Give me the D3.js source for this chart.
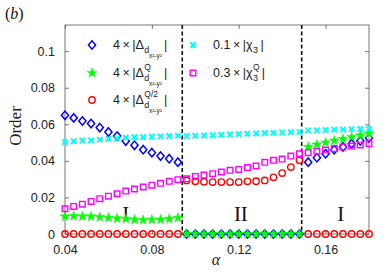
<!DOCTYPE html>
<html>
<head>
<meta charset="utf-8">
<script src="https://cdn.jsdelivr.net/npm/d3@7"></script>
<style>
body { margin: 0; background: #fff; }
</style>
</head>
<body>
<div id="chart"></div>
<script>
const width = 388,
  height = 277;

const alpha = [0.04, 0.044, 0.048, 0.052, 0.056, 0.06, 0.064, 0.068, 0.072, 0.076, 0.08, 0.084, 0.088, 0.092,
  0.096, 0.1, 0.104, 0.108, 0.112, 0.116, 0.12, 0.124, 0.128, 0.132, 0.136, 0.14, 0.144, 0.148,
  0.152, 0.156, 0.16, 0.164, 0.168, 0.172, 0.176, 0.18];

// 4x|Delta_d|
const deltaD = [0.0649, 0.0635, 0.0618, 0.0604, 0.0582, 0.0558, 0.0536, 0.0508, 0.0485, 0.0461, 0.0445, 0.0426, 0.0412, 0.0393,
  0, 0, 0, 0, 0, 0, 0, 0, 0, 0, 0, 0, 0, 0,
  0.0393, 0.0417, 0.0439, 0.0461, 0.0476, 0.0494, 0.0509, 0.0525];
// 4x|Delta_d^Q|
const deltaQ = [0.0096, 0.0098, 0.0096, 0.0096, 0.0092, 0.0089, 0.0085, 0.0083, 0.0078, 0.0076, 0.0078, 0.0079, 0.0083, 0.0089,
  0, 0, 0, 0, 0, 0, 0, 0, 0, 0, 0, 0, 0, 0,
  0.0476, 0.0489, 0.05, 0.0511, 0.052, 0.053, 0.054, 0.0549];
// 4x|Delta_d^Q/2|
const deltaQ2 = [0, 0, 0, 0, 0, 0, 0, 0, 0, 0, 0, 0, 0, 0,
  0.0293, 0.0288, 0.0286, 0.0284, 0.0284, 0.0284, 0.0284, 0.0288, 0.0289, 0.0293, 0.031, 0.0333, 0.0366, 0.0403,
  0, 0, 0, 0, 0, 0, 0, 0];
// 0.1x|chi_3|
const chi3 = [0.0503, 0.0507, 0.0511, 0.0512, 0.0516, 0.052, 0.0523, 0.0527, 0.0529, 0.053, 0.0532, 0.0534, 0.0536, 0.0538,
  0.0536, 0.0537, 0.0539, 0.054, 0.0542, 0.0544, 0.0546, 0.0548, 0.055, 0.0552, 0.0553, 0.0555, 0.0557, 0.0558,
  0.0567, 0.0567, 0.0569, 0.0571, 0.0571, 0.0573, 0.0574, 0.0575];
// 0.3x|chi_3^Q|
const chi3Q = [0.0138, 0.0151, 0.0163, 0.0178, 0.0193, 0.0207, 0.022, 0.0235, 0.0246, 0.0257, 0.0267, 0.0277, 0.0288, 0.0297,
  0.0302, 0.0315, 0.0322, 0.033, 0.0339, 0.0348, 0.0353, 0.0363, 0.0372, 0.0392, 0.0403, 0.041, 0.0426, 0.0439,
  0.0445, 0.0452, 0.0459, 0.0467, 0.0476, 0.0481, 0.0487, 0.0494];

const xTicks = [0.04, 0.08, 0.12, 0.16];
const yTicks = [0, 0.02, 0.04, 0.06, 0.08, 0.1];
const boundaries = [0.094, 0.149];
const phaseLabels = ["I", "II", "I"];
const phasePos = [0.068, 0.121, 0.167];

const margin = { left: 65, right: 19, top: 25, bottom: 43 };

const svg = d3.select("#chart").append("svg").attr("width", width).attr("height", height)
  .style("font-family", "'Liberation Sans', Arial, sans-serif");

const x = d3.scaleLinear().domain([0.04, 0.18]).range([margin.left, width - margin.right]);
const y = d3.scaleLinear().domain([0, 0.1143]).range([height - margin.bottom, margin.top]);

const frameColor = "#555";

// frame
svg.append("rect")
  .attr("x", margin.left).attr("y", margin.top)
  .attr("width", width - margin.left - margin.right)
  .attr("height", height - margin.top - margin.bottom)
  .attr("fill", "none").attr("stroke", frameColor).attr("stroke-width", 0.8);

// axes with inward ticks
const xAxis = svg.append("g").attr("transform", `translate(0,${y(0)})`)
  .call(d3.axisBottom(x).tickValues(xTicks).tickSizeInner(-4).tickSizeOuter(0).tickPadding(11).tickFormat(d3.format("")));
const xAxisTop = svg.append("g").attr("transform", `translate(0,${margin.top})`)
  .call(d3.axisTop(x).tickValues(xTicks).tickSizeInner(-4).tickSizeOuter(0).tickFormat(""));
const yAxis = svg.append("g").attr("transform", `translate(${margin.left},0)`)
  .call(d3.axisLeft(y).tickValues(yTicks).tickSizeInner(-4).tickSizeOuter(0).tickPadding(10).tickFormat(d3.format("")));
const yAxisRight = svg.append("g").attr("transform", `translate(${width - margin.right},0)`)
  .call(d3.axisRight(y).tickValues(yTicks).tickSizeInner(-4).tickSizeOuter(0).tickFormat(""));

[xAxis, xAxisTop, yAxis, yAxisRight].forEach(g => {
  g.select(".domain").remove();
  g.selectAll("line").attr("stroke", frameColor).attr("stroke-width", 0.8);
  g.selectAll("text").attr("fill", "#222").style("font-size", "12.5px")
    .style("font-family", "'Liberation Sans', Arial, sans-serif");
});

// axis titles
svg.append("text")
  .attr("transform", `translate(21,126) rotate(-90)`)
  .attr("text-anchor", "middle")
  .style("font-family", "'Liberation Serif', 'Times New Roman', serif")
  .style("font-size", "17px")
  .attr("fill", "#222")
  .text("Order");

svg.append("text")
  .attr("x", 216).attr("y", 265)
  .attr("text-anchor", "middle")
  .style("font-family", "'Liberation Serif', 'Times New Roman', serif")
  .style("font-style", "italic")
  .style("font-size", "16px")
  .attr("fill", "#222")
  .text("α");

svg.append("text")
  .attr("x", 5).attr("y", 19)
  .style("font-family", "'Liberation Serif', 'Times New Roman', serif")
  .style("font-size", "16px")
  .attr("fill", "#111")
  .html("(<tspan font-style='italic'>b</tspan>)");

// phase boundaries
svg.append("g").selectAll("line")
  .data(boundaries)
  .join("line")
  .attr("x1", d => x(d)).attr("x2", d => x(d))
  .attr("y1", margin.top).attr("y2", height - margin.bottom)
  .attr("stroke", "#111").attr("stroke-width", 1.6)
  .attr("stroke-dasharray", "4,2.5");

// phase labels
svg.append("g").selectAll("text")
  .data(phaseLabels)
  .join("text")
  .attr("x", (d, i) => x(phasePos[i]))
  .attr("y", y(0.0112) + 7)
  .attr("text-anchor", "middle")
  .style("font-family", "'Liberation Serif', 'Times New Roman', serif")
  .style("font-size", "21px")
  .attr("fill", "#111")
  .text(d => d);

// marker shapes
const diamond = "M0,-4.2L3.6,0L0,4.2L-3.6,0Z";
const star = d3.symbol().type(d3.symbolStar).size(30)();
const cross = "M-2.7,-2.7L2.7,2.7M-2.7,2.7L2.7,-2.7";
const square = "M-2.8,-2.8H2.8V2.8H-2.8Z";

const series = [
  { values: deltaD, path: diamond, fill: "none", stroke: "#0000ff", sw: 1.5 },
  { values: deltaQ, path: star, fill: "#00ff00", stroke: "#00ff00", sw: 0.5 },
  { values: deltaQ2, path: null, fill: "none", stroke: "#ff0000", sw: 1.4 },
  { values: chi3, path: cross, fill: "none", stroke: "#00ffff", sw: 2.1 },
  { values: chi3Q, path: square, fill: "none", stroke: "#ff00ff", sw: 1.4 }
];

function drawMarker(g, s) {
  if (s.path === null) {
    g.append("circle").attr("r", 3.2)
      .attr("fill", s.fill).attr("stroke", s.stroke).attr("stroke-width", s.sw);
  } else {
    g.append("path").attr("d", s.path)
      .attr("fill", s.fill).attr("stroke", s.stroke).attr("stroke-width", s.sw);
  }
}

const plot = svg.append("g");
series.forEach(s => {
  plot.append("g").selectAll("g")
    .data(alpha.map((a, i) => [a, s.values[i]]))
    .join("g")
    .attr("transform", d => `translate(${x(d[0])},${y(d[1])})`)
    .each(function() { drawMarker(d3.select(this), s); });
});

// legend
const legendPos = [[92, 45], [92, 73], [92, 100], [193, 45], [193, 73]];
series.forEach((s, i) => {
  const g = svg.append("g").attr("transform", `translate(${legendPos[i][0]},${legendPos[i][1]})`);
  drawMarker(g, s);
});

function richLabel(x0, y0, main, sup, sub, subsub, close) {
  const t = svg.append("text").attr("x", x0).attr("y", y0).attr("fill", "#222")
    .style("font-size", "12.5px");
  t.text(main);
  const w = t.node().getComputedTextLength();
  let end = x0 + w;
  if (sup) {
    const s = svg.append("text").attr("x", x0 + w + 0.5).attr("y", y0 - 7.5).attr("fill", "#222")
      .style("font-size", "8.5px").text(sup);
    end = Math.max(end, x0 + w + 0.5 + s.node().getComputedTextLength());
  }
  if (sub) {
    const s = svg.append("text").attr("x", x0 + w + 0.5).attr("y", y0 + 4).attr("fill", "#222")
      .style("font-size", "9px").text(sub);
    const sw = s.node().getComputedTextLength();
    end = Math.max(end, x0 + w + sw + 1);
    if (subsub) {
      const ss = svg.append("text").attr("x", x0 + w + sw).attr("y", y0 + 9).attr("fill", "#222")
        .style("font-size", "6.5px").text(subsub);
      end = Math.max(end, x0 + w + sw + ss.node().getComputedTextLength());
    }
  }
  svg.append("text").attr("x", end + 2).attr("y", y0).attr("fill", "#222")
    .style("font-size", "12.5px").text(close);
}

richLabel(113, 49, "4\u2009×\u2009|Δ", null, "d", "x²-y²", "|");
richLabel(113, 77, "4\u2009×\u2009|Δ", "Q", "d", "x²-y²", "|");
richLabel(113, 104, "4\u2009×\u2009|Δ", "Q/2", "d", "x²-y²", "|");
richLabel(213, 49, "0.1\u2009×\u2009|χ", null, "3", null, "|");
richLabel(213, 77, "0.3\u2009×\u2009|χ", "Q", "3", null, "|");
</script>
</body>
</html>
